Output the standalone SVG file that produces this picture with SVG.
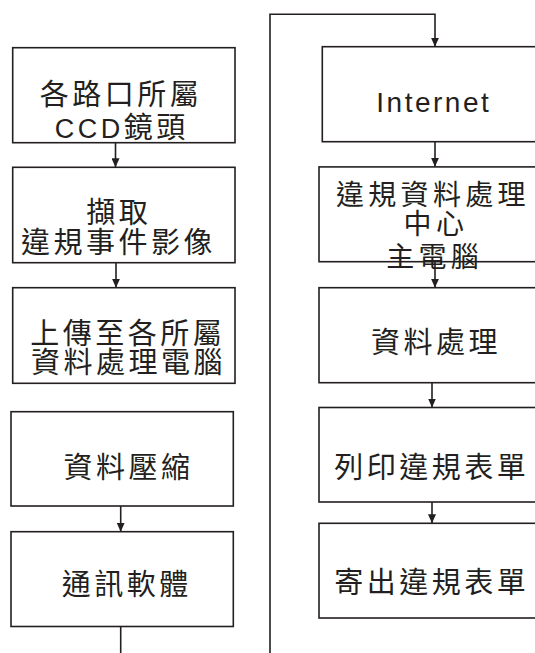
<svg xmlns="http://www.w3.org/2000/svg" width="535" height="653" viewBox="0 0 535 653">
<style>
.box{fill:#fff;stroke:#231f20;stroke-width:1.6}
.ln{fill:none;stroke:#231f20;stroke-width:1.6}
.t{font-family:"Liberation Sans","Noto Sans CJK TC",sans-serif;font-size:29px;letter-spacing:3.5px;fill:#231f20;text-anchor:middle}
.s{text-anchor:start}
.cc{font-size:27px;letter-spacing:3.5px}
.m{font-size:28px;letter-spacing:4.3px}
.lat{font-family:"Liberation Sans",Arial,sans-serif;font-size:28px;letter-spacing:2.5px;fill:#231f20;text-anchor:middle}
</style>
<defs>
<marker id="ah" markerUnits="userSpaceOnUse" markerWidth="9" markerHeight="8" viewBox="0 0 9 8" refX="9" refY="4" orient="auto">
<path d="M0,0 L9,4 L0,8 z" fill="#231f20"/>
</marker>
</defs>
<rect width="535" height="653" fill="#fff"/>
<g id="connectors">
<line class="ln" x1="115.5" y1="142.7" x2="115.5" y2="167.3" marker-end="url(#ah)"/>
<line class="ln" x1="116" y1="262.7" x2="116" y2="287.7" marker-end="url(#ah)"/>
<line class="ln" x1="120.7" y1="506" x2="120.7" y2="531.7" marker-end="url(#ah)"/>
<polyline class="ln" points="120.7,626.5 120.7,653"/>
<polyline class="ln" points="270,653 270,14.3 435,14.3 435,46.7" marker-end="url(#ah)"/>
<line class="ln" x1="435" y1="141.7" x2="435" y2="166.7" marker-end="url(#ah)"/>
<line class="ln" x1="435" y1="230" x2="435" y2="287.7" marker-end="url(#ah)"/>
<line class="ln" x1="432" y1="382.5" x2="432" y2="407.5" marker-end="url(#ah)"/>
<line class="ln" x1="432" y1="502" x2="432" y2="523.3" marker-end="url(#ah)"/>
</g>
<g id="n1"><rect class="box" x="12.7" y="47.7" width="222.3" height="95"/>
<text class="t" x="121" y="105">各路口所屬</text><text class="t s" x="54.7" y="138"><tspan class="cc">CCD</tspan>鏡頭</text></g>
<g id="n2"><rect class="box" x="12.7" y="167.3" width="222.3" height="95.4"/>
<text class="t" x="118.7" y="222.5">擷取</text><text class="t" x="118.5" y="253">違規事件影像</text></g>
<g id="n3"><rect class="box" x="12.7" y="287.7" width="222.3" height="95.6"/>
<text class="t" x="127.8" y="344">上傳至各所屬</text><text class="t" x="128.4" y="373">資料處理電腦</text></g>
<g id="n4"><rect class="box" x="11" y="411.7" width="222.3" height="94.3"/>
<text class="t" x="128.4" y="478">資料壓縮</text></g>
<g id="n5"><rect class="box" x="11" y="531.7" width="222.3" height="94.8"/>
<text class="t" x="126.7" y="595">通訊軟體</text></g>
<g id="n6"><rect class="box" x="322.3" y="46.7" width="230" height="95"/>
<text class="lat" x="433.8" y="111.7">Internet</text></g>
<g id="n7"><rect class="box" x="319" y="166.9" width="230" height="94.8"/>
<text class="t m" x="432.9" y="204.8">違規資料處理</text><text class="t m" x="435.9" y="234">中心</text><text class="t m" x="434.7" y="267.4">主電腦</text></g>
<g id="n8"><rect class="box" x="319" y="287.7" width="230" height="95"/>
<text class="t" x="436" y="353">資料處理</text></g>
<g id="n9"><rect class="box" x="319" y="407.5" width="230" height="94.5"/>
<text class="t" x="431.7" y="478">列印違規表單</text></g>
<g id="n10"><rect class="box" x="319" y="523.3" width="230" height="94.7"/>
<text class="t" x="431.7" y="593">寄出違規表單</text></g>
</svg>
